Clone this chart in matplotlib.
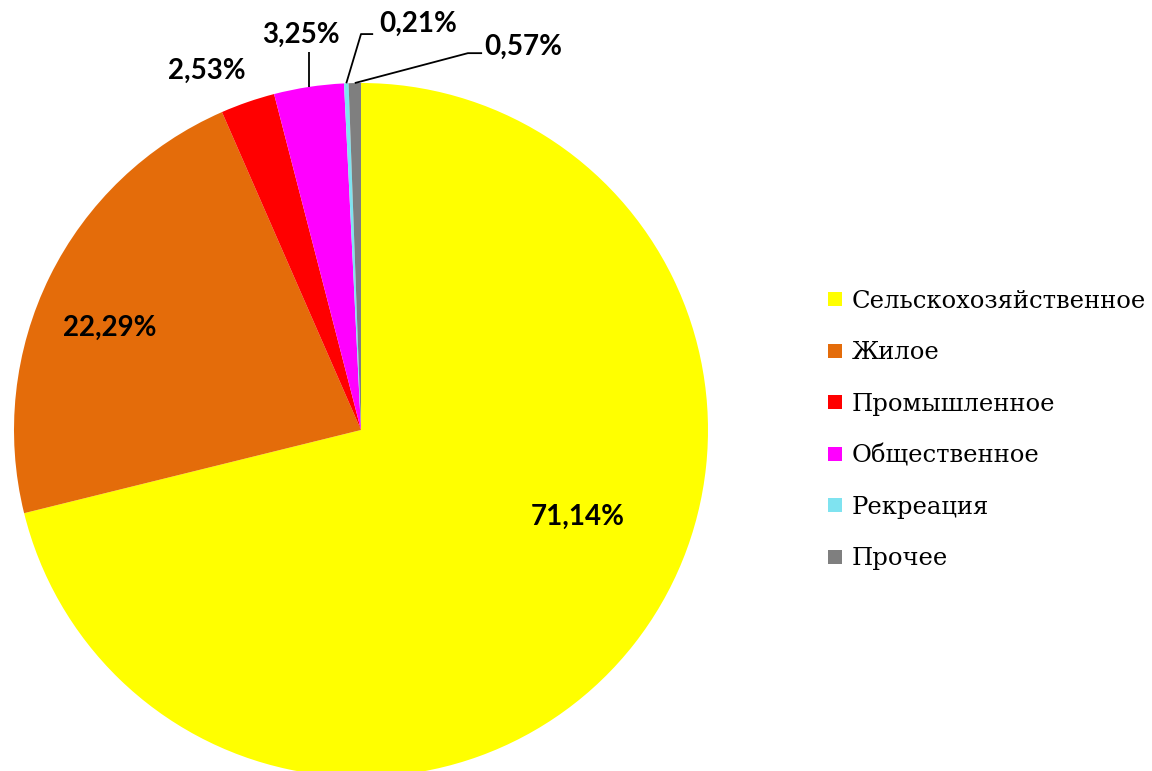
import matplotlib
matplotlib.use('Agg')
import matplotlib.pyplot as plt
from matplotlib.lines import Line2D
import numpy as np

# Data
categories = ['Сельскохозяйственное', 'Жилое', 'Промышленное',
              'Общественное', 'Рекреация', 'Прочее']
shares = [71.14, 22.29, 2.53, 3.25, 0.21, 0.57]
labels = ['71,14%', '22,29%', '2,53%', '3,25%', '0,21%', '0,57%']
colors = ['#FFFF00', '#E46C0A', '#FF0000', '#FF00FF', '#7FE3F0', '#7F7F7F']

fig = plt.figure(figsize=(11.52, 7.71), dpi=100, facecolor='w')
W, H = 1152, 771
cx, cy, R = 361, 430, 347
ax = fig.add_axes([(cx - R) / W, (H - cy - R) / H, 2 * R / W, 2 * R / H])

wedges, _ = ax.pie(shares, colors=colors, startangle=90, counterclock=False,
                   radius=1, wedgeprops=dict(linewidth=0))
ax.set_xlim(-1, 1)
ax.set_ylim(-1, 1)
ax.set_aspect('equal')
ax.axis('off')
for w in wedges:
    w.set_clip_on(False)

# label positions (x, y in pie radius units) and leader elbows
label_pos = [(0.625, -0.25), (-0.723, 0.294), (-0.444, 1.035),
             (-0.173, 1.14), (0.164, 1.17), (0.468, 1.105)]
elbows = {3: [(None, 1.089)], 4: [(0.0, 1.141), (0.035, 1.141)],
          5: [(0.308, 1.086), (0.349, 1.086)]}

lbl_font = dict(family=['Lato', 'DejaVu Sans'], weight='bold', size=20)
for i, (w, lab) in enumerate(zip(wedges, labels)):
    x, y = label_pos[i]
    ax.text(x, y, lab, ha='center', va='center', **lbl_font)
    if i in elbows:
        mid = np.deg2rad((w.theta1 + w.theta2) / 2)
        px, py = np.cos(mid), np.sin(mid)
        pts = [(px, py)]
        for ex, ey in elbows[i]:
            pts.append((px if ex is None else ex, ey))
        xs, ys = zip(*pts)
        ax.plot(xs, ys, color='k', lw=1.3, clip_on=False,
                solid_capstyle='butt')

# Legend
handles = [Line2D([], [], marker='s', linestyle='none', markersize=9.5,
                  markerfacecolor=c, markeredgewidth=0) for c in colors]
fig.legend(handles, categories, loc='center left',
           bbox_to_anchor=(803 / W, (H - 430) / H), frameon=False,
           prop=dict(family=['DejaVu Serif'], size=17.5),
           labelspacing=1.17, handlelength=0.8, handletextpad=0.3)

fig.savefig('out.png', dpi=100)
